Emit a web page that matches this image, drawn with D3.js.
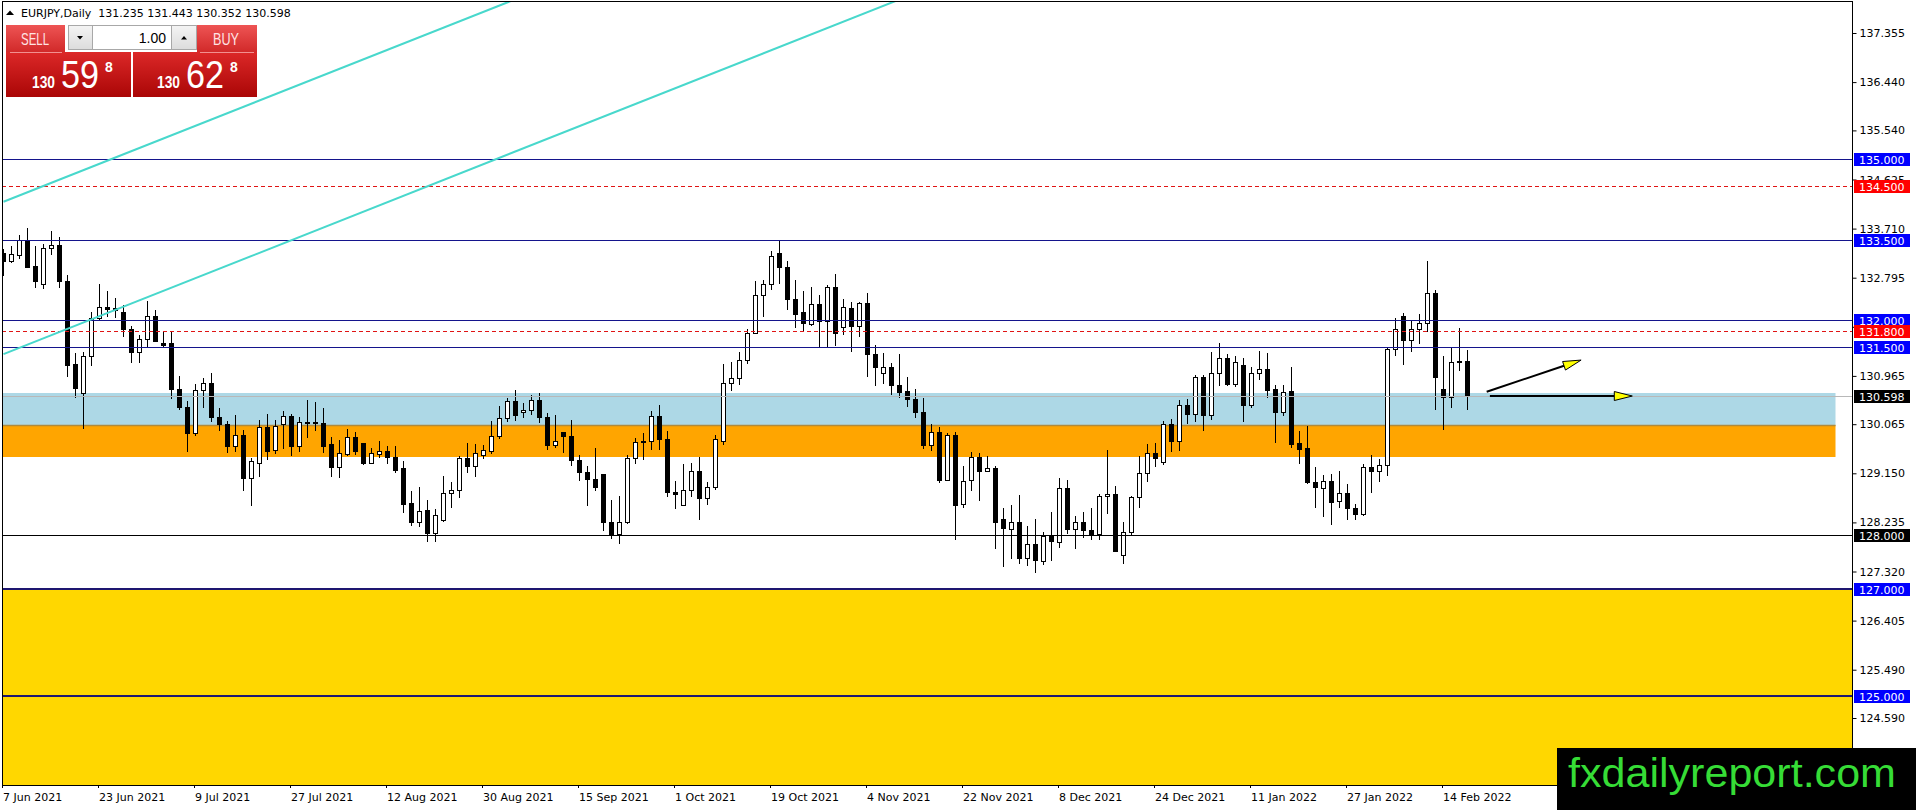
<!DOCTYPE html>
<html lang="en">
<head>
<meta charset="UTF-8" />
<title>EURJPY, Daily</title>
<script src="https://d3js.org/d3.v7.min.js"></script>
<style>
  body { margin: 0; background: #fff; }
  svg { display: block; }
</style>
</head>
<body>
<script>
var w = 1916, h = 810;
var plotLeft = 2, plotRight = 1852, plotTop = 2, plotBottom = 785;

// daily bars, first bar = 7 Jun 2021 (weekdays only)
var opens = [
  133.25,133.10,133.22,133.49,133.02,132.68,133.35,133.41,132.74,131.18,
  130.64,131.34,132.05,132.24,132.23,132.16,131.84,131.41,131.66,132.08,
  131.58,131.57,130.72,130.38,129.90,130.70,130.83,130.20,130.07,129.66,
  129.87,129.07,129.35,130.02,129.58,130.06,130.21,129.65,130.09,130.10,
  130.08,129.69,129.27,129.51,129.82,129.71,129.35,129.51,129.57,129.45,
  129.24,128.59,128.24,128.46,128.04,128.28,128.78,128.83,129.43,129.29,
  129.50,129.57,129.84,130.18,130.49,130.29,130.33,130.52,130.20,129.67,
  129.92,129.84,129.40,129.17,129.04,129.14,128.24,128.02,128.25,129.43,
  129.74,129.75,130.21,129.79,128.80,128.56,128.84,129.20,128.69,128.89,
  129.75,130.83,130.93,131.27,131.76,132.48,132.68,133.25,133.00,132.40,
  132.16,131.93,132.30,131.98,132.62,131.88,132.23,131.90,132.32,131.37,
  131.02,131.13,130.80,130.69,130.53,130.29,129.67,129.92,129.03,129.87,
  128.58,129.02,129.45,129.20,129.25,128.29,128.11,128.24,127.58,127.83,
  127.52,127.99,127.87,128.88,128.11,128.24,128.10,128.01,128.73,128.76,
  127.63,128.06,128.71,129.16,129.53,129.36,130.07,129.76,130.42,130.25,
  130.94,130.23,131.02,131.30,130.82,131.17,130.42,131.02,131.10,130.72,
  130.29,130.69,129.71,129.62,128.99,128.88,129.01,128.63,128.78,128.50,
  128.39,129.27,129.20,129.30,131.47,132.09,131.63,131.84,131.95,132.51,
  130.72,130.57,131.23,131.235
];
var highs = [
  133.33,133.39,133.60,133.72,133.38,133.43,133.66,133.56,132.84,131.39,
  131.41,132.15,132.67,132.54,132.42,132.29,131.90,131.72,132.37,132.20,
  131.80,131.80,130.97,130.49,130.82,130.92,131.02,130.37,130.13,130.23,
  129.95,129.43,130.14,130.25,130.14,130.31,130.25,130.20,130.52,130.47,
  130.36,129.82,129.77,129.97,129.92,129.72,129.63,129.76,129.66,129.66,
  129.37,128.82,128.89,128.65,128.48,129.10,128.98,129.47,129.72,129.70,
  129.67,130.13,130.40,130.55,130.71,130.46,130.61,130.65,130.27,130.24,
  129.92,130.14,129.49,129.29,129.62,129.14,128.66,128.72,129.50,129.80,
  129.90,130.32,130.43,129.93,129.01,129.32,129.34,129.45,128.99,129.87,
  131.19,131.22,131.41,131.84,132.73,132.76,133.30,133.48,133.10,132.76,
  132.54,132.62,132.48,132.66,132.86,132.40,132.34,132.35,132.51,131.54,
  131.39,131.20,131.38,130.94,130.72,130.55,130.07,130.02,129.90,129.92,
  129.28,129.55,129.52,129.47,129.28,128.50,128.55,128.75,128.17,128.30,
  128.05,128.43,129.07,129.02,128.36,128.42,128.50,128.77,129.59,128.92,
  128.25,128.72,129.47,129.70,129.71,130.12,130.16,130.52,130.54,130.99,
  130.99,131.41,131.57,131.38,131.33,131.30,131.14,131.43,131.39,130.80,
  130.80,131.14,129.94,130.04,129.27,129.11,129.14,129.20,128.95,128.58,
  129.32,129.50,129.42,131.48,132.04,132.14,132.00,132.12,133.10,132.57,
  131.34,131.50,131.86,131.443
];
var lows = [
  132.85,133.08,133.16,132.99,132.62,132.60,133.24,132.63,130.97,130.57,
  129.99,131.16,132.00,132.09,132.07,131.70,131.22,131.22,131.50,131.61,
  131.50,130.55,130.35,129.56,129.87,130.38,130.13,129.95,129.54,129.57,
  128.84,128.55,129.10,129.42,129.53,129.63,129.50,129.57,129.83,129.96,
  129.55,129.10,129.09,129.49,129.51,129.33,129.34,129.46,129.34,129.18,
  128.43,128.19,128.16,127.88,127.89,128.27,128.53,128.71,129.17,129.10,
  129.43,129.53,129.81,130.12,130.14,130.20,130.25,130.11,129.61,129.64,
  129.54,129.31,129.02,128.55,128.84,128.10,127.94,127.86,128.22,129.34,
  129.42,129.61,129.61,128.72,128.50,128.56,128.72,128.29,128.57,128.86,
  129.70,130.70,130.82,131.20,131.76,132.09,132.58,132.70,132.21,131.88,
  131.80,131.91,131.53,131.52,131.55,131.75,131.42,131.70,130.97,130.79,
  130.84,130.63,130.58,130.40,130.19,129.63,129.59,128.98,129.02,127.93,
  128.52,128.84,128.65,129.20,127.76,127.43,127.58,127.48,127.45,127.32,
  127.46,127.54,127.77,128.04,127.75,127.96,127.93,127.93,128.41,127.70,
  127.47,128.02,128.52,129.00,129.28,129.32,129.57,129.59,130.09,130.12,
  129.96,130.17,130.80,130.79,130.77,130.12,130.39,130.91,130.57,129.73,
  130.24,129.64,129.34,128.96,128.52,128.35,128.20,128.53,128.29,128.30,
  128.38,128.81,129.00,129.12,131.36,131.19,131.42,131.57,131.80,130.34,
  129.98,130.38,131.07,130.352
];
var closes = [
  133.10,133.23,133.49,133.00,132.74,133.35,133.41,132.73,131.16,130.74,
  131.34,132.05,132.25,132.22,132.20,131.84,131.41,131.66,132.08,131.62,
  131.54,130.72,130.38,129.90,130.70,130.83,130.20,130.07,129.66,129.87,
  129.06,129.37,130.02,129.57,130.04,130.21,129.65,130.10,130.10,130.08,
  129.66,129.27,129.52,129.82,129.57,129.35,129.52,129.57,129.45,129.21,
  128.58,128.24,128.45,128.04,128.37,128.78,128.83,129.43,129.29,129.52,
  129.58,129.84,130.18,130.49,130.23,130.33,130.52,130.20,129.67,129.75,
  129.84,129.40,129.17,129.04,128.89,128.24,128.01,128.25,129.43,129.73,
  129.75,130.21,129.79,128.80,128.76,128.84,129.20,128.69,128.89,129.78,
  130.83,130.93,131.27,131.76,132.48,132.68,133.20,133.00,132.40,132.11,
  131.95,132.30,131.98,132.62,131.76,132.25,131.89,132.32,131.37,131.13,
  131.13,130.79,130.67,130.53,130.29,129.67,129.92,129.03,129.87,128.55,
  129.01,129.45,129.20,129.25,128.24,128.13,128.24,127.58,127.83,127.53,
  127.99,127.88,128.88,128.11,128.24,128.09,128.01,128.73,128.76,127.71,
  128.06,128.71,129.16,129.53,129.43,130.07,129.76,130.42,130.25,130.94,
  130.23,131.02,131.30,130.82,131.22,130.42,131.02,131.10,130.71,130.29,
  130.66,129.70,129.60,128.99,128.89,129.01,128.61,128.78,128.50,128.39,
  129.27,129.20,129.30,131.47,131.84,131.63,131.84,131.95,132.51,130.94,
  130.57,131.22,131.24,130.598
];

var priceTicks = [137.355, 136.440, 135.540, 134.625, 133.710, 132.795, 131.880,
  130.965, 130.065, 129.150, 128.235, 127.320, 126.405, 125.490, 124.590];
var dateTickStep = 12;

// horizontal levels and their kind
var levelPrices = [135.0, 134.5, 133.5, 132.0, 131.8, 131.5, 128.0, 127.0, 125.0];
var levelKinds = ["blue", "red", "blue", "blue", "red", "blue", "black", "blueWide", "blueWide"];
var bid = 130.598, ask = 130.628;

// rectangles: price top / bottom, bar from / to
var zoneTops = [130.64, 130.05, 127.0];
var zoneBottoms = [130.05, 129.45, 118.0];
var zoneFrom = [-20, -20, -20];
var zoneTo = [229, 229, 400];

// trend lines [bar, price]
var trendFrom = [[0, 131.37], [0, 134.21]];
var trendTo = [[112, 137.98], [70, 138.34]];

// arrows [bar, price]
var arrowFrom = [[185.4, 130.67], [185.8, 130.59]];
var arrowTo = [[197.2, 131.26], [203.6, 130.59]];

var levelStyle = {
  blue: { stroke: "#14148c", width: 1, dash: null, box: "#0000ff" },
  red: { stroke: "#e01414", width: 1, dash: "4,3", box: "#ff0000" },
  black: { stroke: "#000000", width: 1, dash: null, box: "#000000" },
  blueWide: { stroke: "#1e1670", width: 2, dash: null, box: "#0000ff" }
};
var zoneColors = ["#add8e6", "#ffa500", "#ffd700"];

var n = closes.length;
var start = new Date(2021, 5, 7);
var dates = d3.timeDay.range(start, d3.timeDay.offset(start, 400))
  .filter(function (d) { return d.getDay() !== 0 && d.getDay() !== 6; })
  .slice(0, n);
var fmtDate = d3.timeFormat("%-d %b %Y");
var fmtPrice = d3.format(".3f");

var xScale = d3.scaleLinear()
  .domain([0, n - 1])
  .range([3.5, 3.5 + 8 * (n - 1)]);

var yScale = d3.scaleLinear()
  .domain([priceTicks[priceTicks.length - 1], priceTicks[0]])
  .range([718, 33]);

function py(p) { return Math.round(yScale(p)) + 0.5; }

var svg = d3.select("body")
  .append("svg")
  .attr("width", w)
  .attr("height", h)
  .style("font-family", "'DejaVu Sans', sans-serif");

var defs = svg.append("defs");
defs.append("clipPath").attr("id", "plot")
  .append("rect")
  .attr("x", plotLeft + 0.5).attr("y", plotTop)
  .attr("width", plotRight - plotLeft).attr("height", plotBottom - plotTop);

function gradient(id, top, bottom) {
  var g = defs.append("linearGradient").attr("id", id)
    .attr("x1", 0).attr("y1", 0).attr("x2", 0).attr("y2", 1);
  g.append("stop").attr("offset", "0%").attr("stop-color", top);
  g.append("stop").attr("offset", "100%").attr("stop-color", bottom);
}
gradient("btnRed", "#ee5454", "#d02828");
gradient("bigRed", "#dc2828", "#aa0606");
gradient("btnGray", "#f4f4f4", "#dcdcdc");

var plot = svg.append("g").attr("clip-path", "url(#plot)");

// zones
plot.selectAll("rect.zone")
  .data(zoneTops)
  .enter()
  .append("rect")
  .attr("class", "zone")
  .attr("x", function (d, i) { return xScale(zoneFrom[i]); })
  .attr("y", function (d) { return Math.round(yScale(d)); })
  .attr("width", function (d, i) { return xScale(zoneTo[i]) - xScale(zoneFrom[i]); })
  .attr("height", function (d, i) { return Math.round(yScale(zoneBottoms[i])) - Math.round(yScale(d)); })
  .attr("fill", function (d, i) { return zoneColors[i]; });

plot.append("line")
  .attr("x1", xScale(zoneFrom[1])).attr("x2", xScale(zoneTo[1]))
  .attr("y1", Math.round(yScale(zoneTops[1])) + 0.5)
  .attr("y2", Math.round(yScale(zoneTops[1])) + 0.5)
  .attr("stroke", "#b08a3c").attr("stroke-width", 1.5);

// candles
var candles = plot.append("g").attr("shape-rendering", "crispEdges");
candles.selectAll("line")
  .data(closes)
  .enter()
  .append("line")
  .attr("x1", function (d, i) { return xScale(i); })
  .attr("x2", function (d, i) { return xScale(i); })
  .attr("y1", function (d, i) { return Math.round(yScale(highs[i])); })
  .attr("y2", function (d, i) { return Math.round(yScale(lows[i])) + 1; })
  .attr("stroke", "#000");

candles.selectAll("rect")
  .data(closes)
  .enter()
  .append("rect")
  .attr("x", function (d, i) { return xScale(i) - 2; })
  .attr("y", function (d, i) { return py(Math.max(opens[i], d)); })
  .attr("width", 4)
  .attr("height", function (d, i) { return py(Math.min(opens[i], d)) - py(Math.max(opens[i], d)); })
  .attr("fill", function (d, i) { return d >= opens[i] ? "#fff" : "#000"; })
  .attr("stroke", "#000");

// horizontal levels
plot.selectAll("line.level")
  .data(levelPrices)
  .enter()
  .append("line")
  .attr("class", "level")
  .attr("x1", plotLeft).attr("x2", plotRight)
  .attr("y1", function (d, i) { return levelStyle[levelKinds[i]].width > 1 ? Math.round(yScale(d)) : py(d); })
  .attr("y2", function (d, i) { return levelStyle[levelKinds[i]].width > 1 ? Math.round(yScale(d)) : py(d); })
  .attr("stroke", function (d, i) { return levelStyle[levelKinds[i]].stroke; })
  .attr("stroke-width", function (d, i) { return levelStyle[levelKinds[i]].width; })
  .attr("stroke-dasharray", function (d, i) { return levelStyle[levelKinds[i]].dash; });

// trend lines
plot.selectAll("line.trend")
  .data(trendFrom)
  .enter()
  .append("line")
  .attr("class", "trend")
  .attr("x1", function (d) { return xScale(d[0]); })
  .attr("y1", function (d) { return yScale(d[1]); })
  .attr("x2", function (d, i) { return xScale(trendTo[i][0]); })
  .attr("y2", function (d, i) { return yScale(trendTo[i][1]); })
  .attr("stroke", "#48d8cc")
  .attr("stroke-width", 2);

// bid line
plot.append("line")
  .attr("x1", plotLeft).attr("x2", plotRight)
  .attr("y1", py(bid)).attr("y2", py(bid))
  .attr("stroke", "#b8b8b8");

// arrows
arrowFrom.forEach(function (a, i) {
  var x1 = xScale(a[0]), y1 = yScale(a[1]);
  var x2 = xScale(arrowTo[i][0]), y2 = yScale(arrowTo[i][1]);
  var ang = Math.atan2(y2 - y1, x2 - x1);
  var len = 18, half = 4.5;
  var bx = x2 - len * Math.cos(ang), by = y2 - len * Math.sin(ang);
  plot.append("line")
    .attr("x1", x1).attr("y1", y1).attr("x2", bx).attr("y2", by)
    .attr("stroke", "#000").attr("stroke-width", 2);
  var pts = [
    [x2, y2],
    [bx + half * Math.sin(ang), by - half * Math.cos(ang)],
    [bx - half * Math.sin(ang), by + half * Math.cos(ang)]
  ];
  plot.append("path")
    .attr("d", "M" + pts.join("L") + "Z")
    .attr("fill", "#ffff00").attr("stroke", "#000").attr("stroke-width", 1);
});

// frame
var frame = svg.append("g").attr("stroke", "#000").attr("shape-rendering", "crispEdges");
frame.append("line").attr("x1", 2.5).attr("x2", 2.5).attr("y1", 1).attr("y2", plotBottom);
frame.append("line").attr("x1", 2).attr("x2", plotRight + 1).attr("y1", 1.5).attr("y2", 1.5);
frame.append("line").attr("x1", 2).attr("x2", plotRight + 1).attr("y1", plotBottom + 0.5).attr("y2", plotBottom + 0.5);
frame.append("line").attr("x1", plotRight + 0.5).attr("x2", plotRight + 0.5).attr("y1", 1).attr("y2", plotBottom + 1);

// price axis; a tick hidden completely under a level label gets no text
function underLabel(v) {
  return levelPrices.some(function (p) { return Math.abs(yScale(p) - yScale(v)) < 7; });
}
var yAxis = d3.axisRight(yScale)
  .tickValues(priceTicks)
  .tickSize(4)
  .tickPadding(3)
  .tickFormat(function (v) {
    var hits = levelPrices.filter(function (p) { return Math.abs(yScale(p) - yScale(v)) < 7; });
    return hits.length > 1 ? "" : fmtPrice(v);
  });
var gy = svg.append("g")
  .attr("transform", "translate(" + (plotRight + 0.5) + ",0)")
  .call(yAxis);
gy.select(".domain").remove();
gy.attr("font-family", "'DejaVu Sans', sans-serif").attr("font-size", 11);
gy.selectAll("text").attr("fill", "#000");

// date axis
var xAxis = d3.axisBottom(xScale)
  .tickValues(d3.range(0, n, dateTickStep))
  .tickSize(3)
  .tickFormat(function (i) { return fmtDate(dates[i]); });
var gx = svg.append("g")
  .attr("transform", "translate(0," + plotBottom + ")")
  .call(xAxis);
gx.select(".domain").remove();
gx.attr("font-family", "'DejaVu Sans', sans-serif").attr("font-size", 11);
gx.selectAll(".tick line").attr("x1", -1.5).attr("x2", -1.5);
gx.selectAll("text")
  .attr("text-anchor", "start")
  .attr("x", -1)
  .attr("y", 8)
  .attr("fill", "#000");

// level labels on the price axis
var labels = svg.append("g").attr("font-size", 11);
var labelPrices = levelPrices.concat([bid]);
var labelColors = levelKinds.map(function (k) { return levelStyle[k].box; }).concat(["#000000"]);
labels.selectAll("rect")
  .data(labelPrices)
  .enter()
  .append("rect")
  .attr("x", plotRight + 2)
  .attr("y", function (d) { return Math.round(yScale(d)) - 6; })
  .attr("width", 56)
  .attr("height", 13)
  .attr("fill", function (d, i) { return labelColors[i]; });
labels.selectAll("text")
  .data(labelPrices)
  .enter()
  .append("text")
  .attr("x", plotRight + 7)
  .attr("y", function (d) { return Math.round(yScale(d)) + 4.5; })
  .attr("fill", "#fff")
  .text(function (d) { return fmtPrice(d); });

// header
svg.append("path").attr("d", "M6,15L10,10.5L14,15Z").attr("fill", "#000");
svg.append("text")
  .attr("x", 21).attr("y", 17)
  .attr("font-size", 11)
  .attr("fill", "#000")
  .attr("xml:space", "preserve")
  .text("EURJPY,Daily  " + [opens[n - 1], highs[n - 1], lows[n - 1], closes[n - 1]].map(fmtPrice).join(" "));

// one click trading panel
var panel = svg.append("g").attr("font-family", "'Liberation Sans', Arial, sans-serif");
panel.append("rect").attr("x", 6).attr("y", 25).attr("width", 59).attr("height", 28).attr("fill", "url(#btnRed)");
panel.append("rect").attr("x", 197).attr("y", 25).attr("width", 60).attr("height", 28).attr("fill", "url(#btnRed)");
panel.append("rect").attr("x", 6).attr("y", 52).attr("width", 125).attr("height", 45).attr("fill", "url(#bigRed)");
panel.append("rect").attr("x", 133).attr("y", 52).attr("width", 124).attr("height", 45).attr("fill", "url(#bigRed)");
panel.append("line").attr("x1", 10).attr("x2", 62).attr("y1", 52.5).attr("y2", 52.5).attr("stroke", "#f29090");
panel.append("line").attr("x1", 200).attr("x2", 254).attr("y1", 52.5).attr("y2", 52.5).attr("stroke", "#f29090");

panel.append("rect").attr("x", 68.5).attr("y", 25.5).attr("width", 128).attr("height", 24)
  .attr("fill", "#fff").attr("stroke", "#a8a8a8");
panel.append("rect").attr("x", 68.5).attr("y", 25.5).attr("width", 24).attr("height", 24)
  .attr("fill", "url(#btnGray)").attr("stroke", "#a8a8a8");
panel.append("rect").attr("x", 171.5).attr("y", 25.5).attr("width", 25).attr("height", 24)
  .attr("fill", "url(#btnGray)").attr("stroke", "#a8a8a8");
panel.append("path").attr("d", "M77,36L83,36L80,39.5Z").attr("fill", "#000");
panel.append("path").attr("d", "M181,39.5L187,39.5L184,36Z").attr("fill", "#000");
panel.append("text").attr("x", 166).attr("y", 43).attr("text-anchor", "end")
  .attr("font-size", 14).attr("fill", "#000").text("1.00");

panel.append("text").attr("x", 21).attr("y", 45).attr("font-size", 17)
  .attr("textLength", 28).attr("lengthAdjust", "spacingAndGlyphs")
  .attr("fill", "#ffe4e4").text("SELL");
panel.append("text").attr("x", 213).attr("y", 45).attr("font-size", 17)
  .attr("textLength", 26).attr("lengthAdjust", "spacingAndGlyphs")
  .attr("fill", "#ffe4e4").text("BUY");

function priceBlock(price, x0) {
  var s = price.toFixed(3);
  var big = s.slice(0, 3), mid = s.slice(4, 6), pip = s.slice(6);
  panel.append("text").attr("x", x0).attr("y", 88).attr("font-size", 16).attr("font-weight", "bold")
    .attr("textLength", 23).attr("lengthAdjust", "spacingAndGlyphs")
    .attr("fill", "#fff").text(big);
  panel.append("text").attr("x", x0 + 29).attr("y", 88).attr("font-size", 38)
    .attr("textLength", 38).attr("lengthAdjust", "spacingAndGlyphs")
    .attr("fill", "#fff").text(mid);
  panel.append("text").attr("x", x0 + 73).attr("y", 72).attr("font-size", 14).attr("font-weight", "bold")
    .attr("fill", "#fff").text(pip);
}
priceBlock(bid, 32);
priceBlock(ask, 157);

// watermark
svg.append("rect").attr("x", 1557).attr("y", 748).attr("width", w - 1557).attr("height", h - 748).attr("fill", "#000");
svg.append("text")
  .attr("x", 1568).attr("y", 787)
  .attr("font-family", "'Liberation Sans', Arial, sans-serif")
  .attr("font-size", 40)
  .attr("textLength", 328).attr("lengthAdjust", "spacingAndGlyphs")
  .attr("fill", "#36dc36")
  .text("fxdailyreport.com");
</script>
</body>
</html>
